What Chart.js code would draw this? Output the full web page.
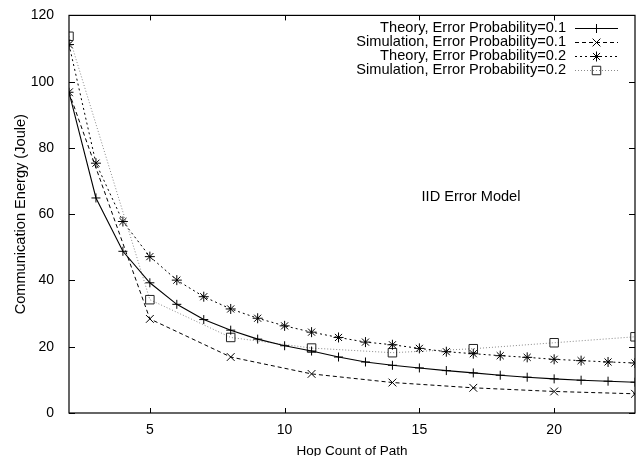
<!DOCTYPE html>
<html>
<head>
<meta charset="utf-8">
<script src="https://cdn.jsdelivr.net/npm/chart.js@4.4.1/dist/chart.umd.min.js"></script>
<style>
  html, body { margin: 0; padding: 0; background: #fff; }
  #wrap { width: 642px; height: 456px; position: relative; }
</style>
</head>
<body>
<div id="wrap"><canvas id="chart"></canvas></div>
<script>
// ── Datos ─────────────────────────────────────────────────────────
const HOPS_THEORY = [2,3,4,5,6,7,8,9,10,11,12,13,14,15,16,17,18,19,20,21,22,23];
const HOPS_SIM    = [2,5,8,11,14,17,20,23];

const THEORY_01 = [96.8,64.9,48.8,39.3,32.8,28.2,25.0,22.3,20.3,18.7,16.9,15.4,14.4,13.6,12.8,12.1,11.4,10.8,10.3,9.9,9.6,9.3];
const SIM_01    = [96.8,28.4,16.9,11.8,9.2,7.6,6.5,5.8];
const THEORY_02 = [111.2,75.4,57.8,47.2,40.1,35.1,31.4,28.6,26.3,24.4,22.8,21.4,20.6,19.5,18.5,17.9,17.3,16.8,16.2,15.8,15.4,15.1];
const SIM_02    = [113.7,34.2,22.8,19.6,18.2,19.4,21.2,23.0];

const X_TICKS = [5,10,15,20];
const Y_TICKS = [0,20,40,60,80,100,120];

const LABELS = [
  "Theory, Error Probability=0.1",
  "Simulation, Error Probability=0.1",
  "Theory, Error Probability=0.2",
  "Simulation, Error Probability=0.2"
];

const FONT = "'Liberation Sans', Arial, Helvetica, sans-serif";
const pts = (xs, ys) => xs.map((x, i) => ({ x, y: ys[i] }));

const datasets = [
  { label: LABELS[0], data: pts(HOPS_THEORY, THEORY_01), borderColor: "#000", borderWidth: 1.1,
    pointStyle: "cross", pointRadius: 4.5, pointBorderColor: "#000", pointBorderWidth: 1 },
  { label: LABELS[1], data: pts(HOPS_SIM, SIM_01), borderColor: "#000", borderWidth: 1, borderDash: [4, 3],
    pointStyle: "crossRot", pointRadius: 5.5, pointBorderColor: "#000", pointBorderWidth: 1 },
  { label: LABELS[2], data: pts(HOPS_THEORY, THEORY_02), borderColor: "#000", borderWidth: 1, borderDash: [2, 3],
    pointStyle: "star", pointRadius: 5, pointBorderColor: "#000", pointBorderWidth: 1 },
  { label: LABELS[3], data: pts(HOPS_SIM, SIM_02), borderColor: "#8a8a8a", borderWidth: 1, borderDash: [1, 2],
    pointStyle: "rect", pointRadius: 6, pointBorderColor: "#222", pointBorderWidth: 1,
    pointBackgroundColor: "rgba(0,0,0,0)" }
].map(d => Object.assign({ fill: false, tension: 0, backgroundColor: "rgba(0,0,0,0)" }, d));

// ── Marco, marcas interiores, leyenda y rótulo ───────────────────
const framePlugin = {
  id: "frame",
  afterDraw(chart) {
    const { ctx, chartArea: a, scales: { x, y } } = chart;
    ctx.save();
    ctx.strokeStyle = "#000";
    ctx.lineWidth = 1.2;
    ctx.setLineDash([]);
    ctx.strokeRect(a.left, a.top, a.right - a.left, a.bottom - a.top);

    ctx.lineWidth = 1;
    ctx.beginPath();
    X_TICKS.forEach(v => {
      const px = Math.round(x.getPixelForValue(v)) + 0.5;
      ctx.moveTo(px, a.bottom); ctx.lineTo(px, a.bottom - 5);
      ctx.moveTo(px, a.top);    ctx.lineTo(px, a.top + 5);
    });
    Y_TICKS.forEach(v => {
      const py = Math.round(y.getPixelForValue(v)) + 0.5;
      ctx.moveTo(a.left, py);  ctx.lineTo(a.left + 6, py);
      ctx.moveTo(a.right, py); ctx.lineTo(a.right - 6, py);
    });
    ctx.stroke();

    // leyenda
    ctx.font = "14.6px " + FONT;
    ctx.textAlign = "right";
    ctx.textBaseline = "middle";
    chart.data.datasets.forEach((ds, i) => {
      const ly = 28 + i * 14;
      ctx.fillStyle = "#000";
      ctx.fillText(ds.label, 566, ly);
      ctx.strokeStyle = ds.borderColor;
      ctx.lineWidth = ds.borderWidth;
      ctx.setLineDash(ds.borderDash || []);
      ctx.beginPath();
      ctx.moveTo(575, ly + 0.5); ctx.lineTo(618, ly + 0.5);
      ctx.stroke();
      ctx.setLineDash([]);
      ctx.strokeStyle = ds.pointBorderColor;
      ctx.fillStyle = "rgba(0,0,0,0)";
      ctx.lineWidth = 1;
      Chart.helpers.drawPoint(ctx, { pointStyle: ds.pointStyle, radius: ds.pointRadius, rotation: 0, borderWidth: 1 }, 596.5, ly + 0.5);
    });

    ctx.fillStyle = "#000";
    ctx.textAlign = "center";
    ctx.fillText("IID Error Model", 471, 197);
    ctx.restore();
  }
};

new Chart(document.getElementById("chart"), {
  type: "line",
  data: { datasets },
  options: {
    responsive: true,
    maintainAspectRatio: false,
    animation: false,
    events: [],
    layout: { padding: { left: 0, top: 14, right: 5, bottom: 0 } },
    plugins: { legend: { display: false }, tooltip: { enabled: false } },
    scales: {
      x: {
        type: "linear", min: 2, max: 23,
        afterBuildTicks: s => { s.ticks = X_TICKS.map(v => ({ value: v })); },
        afterFit: s => { s.height = 43; },
        grid: { display: false }, border: { display: false },
        ticks: { color: "#000", font: { family: FONT, size: 14 }, padding: 1, maxRotation: 0 },
        title: { display: true, text: "Hop Count of Path", color: "#000", font: { family: FONT, size: 13.5 }, padding: { top: 0, bottom: -3 } }
      },
      y: {
        min: 0, max: 120,
        afterBuildTicks: s => { s.ticks = Y_TICKS.map(v => ({ value: v })); },
        afterFit: s => { s.width = 69; },
        grid: { display: false }, border: { display: false },
        ticks: { color: "#000", font: { family: FONT, size: 14 }, padding: 7 },
        title: { display: true, text: "Communication Energy (Joule)", color: "#000", font: { family: FONT, size: 14.6 }, padding: { top: 12, bottom: 0 } }
      }
    }
  },
  plugins: [framePlugin]
});
</script>
</body>
</html>
